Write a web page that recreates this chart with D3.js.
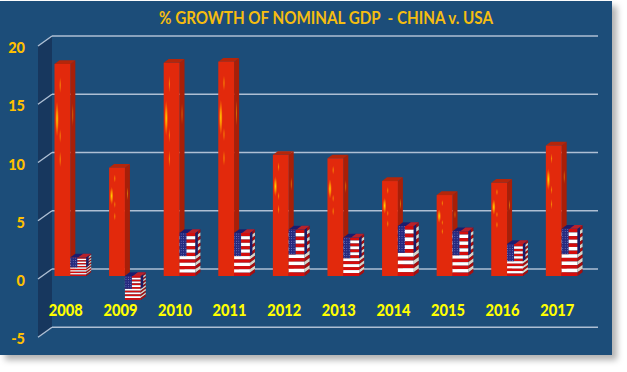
<!DOCTYPE html>
<html>
<head>
<meta charset="utf-8">
<script src="https://cdn.jsdelivr.net/npm/d3@7"></script>
<style>
    html, body { margin: 0; padding: 0; background: #fff; overflow: hidden; }
    text { font-family: Lato, "Open Sans", sans-serif; font-weight: 900; }
</style>
</head>
<body>
<script>
var years = ["2008", "2009", "2010", "2011", "2012", "2013", "2014", "2015", "2016", "2017"];
var china = [18.2, 9.3, 18.3, 18.4, 10.4, 10.1, 8.15, 6.95, 8.0, 11.2];
var usa = [1.6, -2.05, 3.7, 3.7, 4.0, 3.3, 4.3, 3.85, 2.75, 4.05];
var yTicks = [-5, 0, 5, 10, 15, 20];
var titleText = "% GROWTH OF NOMINAL GDP  - CHINA v. USA";

var width = 627;
var height = 372;
var panel = {width: 612, height: 354, top: 1};

// how far the 3d faces are pushed back
var depth = {x: 5, y: 3.7};
var wall = {left: 38, right: 52, front: 3, back: -7};

var svg = d3.select("body").append("svg")
    .attr("width", width)
    .attr("height", height)
    .style("display", "block");

var defs = svg.append("defs");

var shadow = defs.append("filter")
    .attr("id", "panelShadow")
    .attr("x", "-5%").attr("y", "-5%")
    .attr("width", "110%").attr("height", "110%");
shadow.append("feDropShadow")
    .attr("dx", 5).attr("dy", 5)
    .attr("stdDeviation", 3)
    .attr("flood-color", "#000")
    .attr("flood-opacity", 0.3);

var soft = defs.append("filter").attr("id", "soft");
soft.append("feGaussianBlur").attr("stdDeviation", 0.35);

var glow = defs.append("radialGradient").attr("id", "starGlow");
glow.append("stop").attr("offset", "0%").attr("stop-color", "#ffd800");
glow.append("stop").attr("offset", "45%").attr("stop-color", "#ff9c00").attr("stop-opacity", 0.8);
glow.append("stop").attr("offset", "100%").attr("stop-color", "#ff7a00").attr("stop-opacity", 0);

var specks = defs.append("pattern")
    .attr("id", "cantonStars")
    .attr("patternUnits", "userSpaceOnUse")
    .attr("width", 2.4).attr("height", 2.4);
specks.append("rect").attr("width", 2.4).attr("height", 2.4).attr("fill", "#26297f");
specks.append("circle").attr("cx", 1.2).attr("cy", 1.2).attr("r", 0.45).attr("fill", "#8f96d0");

svg.append("rect")
    .attr("y", panel.top)
    .attr("width", panel.width)
    .attr("height", panel.height)
    .attr("fill", "#1f4e79")
    .attr("filter", "url(#panelShadow)");

svg.append("text")
    .text(titleText)
    .attr("x", 159)
    .attr("y", 24)
    .attr("textLength", 334)
    .attr("lengthAdjust", "spacingAndGlyphs")
    .attr("font-size", 16.5)
    .attr("fill", "#f5bd10")
    .style("font-weight", 700)
    .style("white-space", "pre");

var yScale = d3.scaleLinear()
    .domain([-5, 20])
    .range([334.25, 43]);

var xScale = d3.scaleBand()
    .domain(years)
    .range([54.5, 577.5])
    .paddingInner(0.42)
    .paddingOuter(0);

var barW = xScale.bandwidth() / 2;

// dark side wall
svg.append("polygon")
    .attr("points", [
        [wall.left, yScale(20) + wall.front],
        [wall.right, yScale(20) + wall.back],
        [wall.right, yScale(-5) + wall.back],
        [wall.left, yScale(-5) + wall.front]
    ].join(" "))
    .attr("fill", "#17375e");

var grid = svg.append("g");

grid.selectAll(".back")
    .data(yTicks)
    .enter()
    .append("line")
        .attr("x1", wall.right)
        .attr("x2", 598)
        .attr("y1", (d)=> yScale(d) + wall.back)
        .attr("y2", (d)=> yScale(d) + wall.back);

grid.selectAll(".slant")
    .data(yTicks)
    .enter()
    .append("line")
        .attr("x1", wall.left)
        .attr("x2", wall.right)
        .attr("y1", (d)=> yScale(d) + wall.front)
        .attr("y2", (d)=> yScale(d) + wall.back);

grid.selectAll("line")
    .attr("stroke", "#aebfd4")
    .attr("stroke-width", 1.4);

var yAxisCall = d3.axisLeft(yScale)
    .tickValues(yTicks)
    .tickFormat((d)=> String(d))
    .tickSize(0)
    .tickPadding(0);

svg.append("g")
    .call(yAxisCall)
    .attr("transform", "translate(25," + (wall.front + 2) + ")")
    .call((g)=> g.select(".domain").remove())
    .selectAll("text")
        .attr("font-size", 14.5)
        .attr("fill", "#ffc000")
        .style("font-family", "Lato")
        .style("font-weight", 900);

var xAxisCall = d3.axisBottom(xScale)
    .tickSize(0)
    .tickPadding(0);

svg.append("g")
    .call(xAxisCall)
    .attr("transform", "translate(-4.5,305)")
    .call((g)=> g.select(".domain").remove())
    .selectAll("text")
        .attr("font-size", 16)
        .attr("textLength", 34)
        .attr("lengthAdjust", "spacingAndGlyphs")
        .attr("fill", "#ffff00")
        .style("font-family", "Lato")
        .style("font-weight", 900);

function sideFace(x, y0, y1) {
    return [
        [x, y0],
        [x + depth.x, y0 - depth.y],
        [x + depth.x, y1 - depth.y],
        [x, y1]
    ].join(" ");
}

function topFace(x, w, y) {
    return [
        [x, y],
        [x + depth.x, y - depth.y],
        [x + w + depth.x, y - depth.y],
        [x + w, y]
    ].join(" ");
}

// yellow stars of the chinese flag, stretched with the bar
var starSpots = [
    {fx: 0.16, fy: 0.26, rx: 0.12, ry: 0.085, alpha: 1},
    {fx: 0.36, fy: 0.10, rx: 0.07, ry: 0.04, alpha: 0.55},
    {fx: 0.36, fy: 0.34, rx: 0.07, ry: 0.035, alpha: 0.5},
    {fx: 0.36, fy: 0.45, rx: 0.07, ry: 0.04, alpha: 0.55}
];

var zeroY = yScale(0);

var chinaBars = svg.selectAll(".china")
    .data(years)
    .enter()
    .append("g")
        .attr("class", "china");

chinaBars.each(function(year, i){
    var g = d3.select(this);
    var x = xScale(year);
    var top = yScale(china[i]);
    var h = zeroY - top;

    g.append("polygon")
        .attr("points", sideFace(x + barW, top, zeroY))
        .attr("fill", "#a81f08");
    g.append("polygon")
        .attr("points", topFace(x, barW, top))
        .attr("fill", "#b5260a");
    g.append("rect")
        .attr("x", x)
        .attr("y", top)
        .attr("width", barW)
        .attr("height", h)
        .attr("fill", "#e2290c");

    g.selectAll(".star")
        .data(starSpots)
        .enter()
        .append("ellipse")
            .attr("cx", (s)=> x + s.fx * barW)
            .attr("cy", (s)=> top + s.fy * h)
            .attr("rx", (s)=> s.rx * barW)
            .attr("ry", (s)=> s.ry * h)
            .attr("opacity", (s)=> s.alpha)
            .attr("fill", "url(#starGlow)");

    // same glow, fainter, on the side face
    g.append("ellipse")
        .attr("cx", x + barW + depth.x * 0.5)
        .attr("cy", top + 0.24 * h)
        .attr("rx", 0.9)
        .attr("ry", 0.06 * h)
        .attr("fill", "url(#starGlow)")
        .attr("opacity", 0.45);
});

var stripeIds = d3.range(13);

var usaBars = svg.selectAll(".usa")
    .data(years)
    .enter()
    .append("g")
        .attr("class", "usa")
        .attr("filter", "url(#soft)");

usaBars.each(function(year, i){
    var g = d3.select(this);
    var x = xScale(year) + barW;
    var top = Math.min(yScale(usa[i]), zeroY);
    var bottom = Math.max(yScale(usa[i]), zeroY);

    var stripe = d3.scaleBand()
        .domain(stripeIds)
        .range([top, bottom]);
    var cantonH = stripe(7);

    g.selectAll(".front")
        .data(stripeIds)
        .enter()
        .append("rect")
            .attr("x", x)
            .attr("y", (d)=> stripe(d))
            .attr("width", barW)
            .attr("height", stripe.bandwidth())
            .attr("fill", (d)=> d % 2 ? "#ffffff" : "#d4100f");

    g.append("rect")
        .attr("x", x)
        .attr("y", top)
        .attr("width", barW * 0.44)
        .attr("height", cantonH - top)
        .attr("fill", "url(#cantonStars)");

    g.selectAll(".side")
        .data(stripeIds)
        .enter()
        .append("polygon")
            .attr("points", (d)=> sideFace(x + barW, stripe(d), stripe(d) + stripe.bandwidth()))
            .attr("fill", (d)=> d % 2 ? "#d8d4c8" : "#a80c0c");

    g.append("polygon")
        .attr("points", sideFace(x + barW, top, cantonH).split(" ").map(function(p, j){
            // canton only covers the inner half of the side face
            var xy = p.split(",");
            return (j == 1 || j == 2) ? [x + barW + depth.x * 0.5, +xy[1] + depth.y * 0.5] : xy;
        }).join(" "))
        .attr("fill", "#1a1c66");

    g.append("polygon")
        .attr("points", topFace(x, barW, top))
        .attr("fill", "#1d1f6e");
    g.append("polygon")
        .attr("points", topFace(x + barW * 0.5, barW * 0.5, top))
        .attr("fill", "#b8242c");
});
</script>
</body>
</html>
